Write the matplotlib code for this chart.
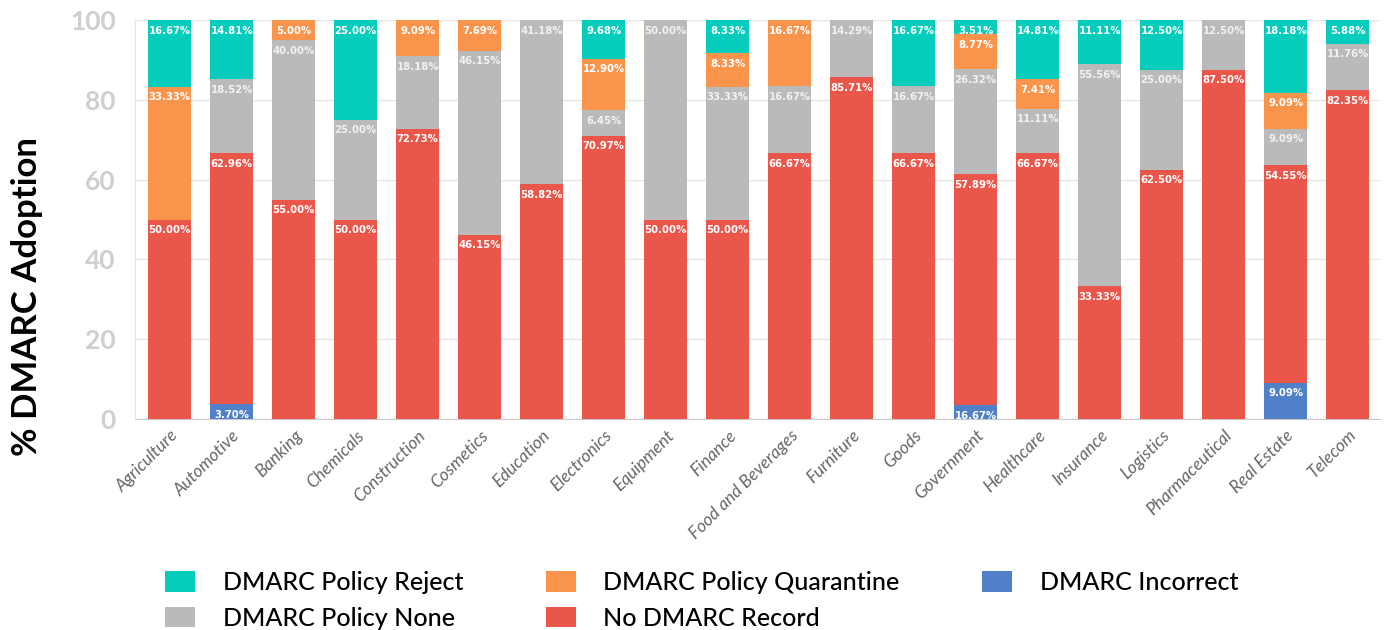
import numpy as np
from matplotlib import pyplot as plt

plt.rcParams['font.family'] = ['Lato', 'DejaVu Sans']

sectors = ['Agriculture', 'Automotive', 'Banking', 'Chemicals', 'Construction',
           'Cosmetics', 'Education', 'Electronics', 'Equipment', 'Finance',
           'Food and Beverages', 'Furniture', 'Goods', 'Government', 'Healthcare',
           'Insurance', 'Logistics', 'Pharmaceutical', 'Real Estate', 'Telecom']

incorrect = [0, 3.70, 0, 0, 0, 0, 0, 0, 0, 0, 0, 0, 0, 3.51, 0, 0, 0, 0, 9.09, 0]
no_record = [50.00, 62.96, 55.00, 50.00, 72.73, 46.15, 58.82, 70.97, 50.00, 50.00,
             66.67, 85.71, 66.67, 57.89, 66.67, 33.33, 62.50, 87.50, 54.55, 82.35]
pol_none = [0, 18.52, 40.00, 25.00, 18.18, 46.15, 41.18, 6.45, 50.00, 33.33,
            16.67, 14.29, 16.67, 26.32, 11.11, 55.56, 25.00, 12.50, 9.09, 11.76]
quarantine = [33.33, 0, 5.00, 0, 9.09, 7.69, 0, 12.90, 0, 8.33,
              16.67, 0, 0, 8.77, 7.41, 0, 0, 0, 9.09, 0]
reject = [16.67, 14.81, 0, 25.00, 0, 0, 0, 9.68, 0, 8.33,
          0, 0, 16.67, 3.51, 14.81, 11.11, 12.50, 0, 18.18, 5.88]

# label shown on the chart for Government's incorrect segment
label_override = {('DMARC Incorrect', 'Government'): '16.67%'}

series = [
    ('DMARC Incorrect', incorrect, '#5080C8', 'white'),
    ('No DMARC Record', no_record, '#EB564A', 'white'),
    ('DMARC Policy None', pol_none, '#BABABA', '#F2F2F2'),
    ('DMARC Policy Quarantine', quarantine, '#F9944C', 'white'),
    ('DMARC Policy Reject', reject, '#05CCBB', 'white'),
]

fig = plt.figure(figsize=(13.84, 6.3), dpi=100)
ax = fig.add_axes([135 / 1384, 211 / 630, 1245 / 1384, 399 / 630])

x = np.arange(len(sectors))
bottom = np.zeros(len(sectors))
handles = {}
for name, vals, col, tcol in series:
    vals = np.array(vals)
    b = ax.bar(x, vals, 0.69, bottom=bottom, color=col, zorder=3, label=name)
    handles[name] = b
    for i, v in enumerate(vals):
        if v > 0:
            txt = label_override.get((name, sectors[i]), '%.2f%%' % v)
            ax.annotate(txt, (x[i], bottom[i] + v), xytext=(0, -4),
                        textcoords='offset points', ha='center', va='top',
                        fontsize=7.3, fontweight='bold', color=tcol,
                        family='DejaVu Sans', zorder=4)
    bottom += vals

ax.set_xlim(-0.56, 19.52)
ax.set_ylim(0, 100)
ax.set_yticks([0, 20, 40, 60, 80, 100])
ax.grid(axis='y', color='#E6E6E6', lw=1, zorder=0)
ax.tick_params(axis='y', length=0, labelsize=19, labelcolor='#CFCFCF', pad=14)
for t in ax.get_yticklabels():
    t.set_fontweight('bold')
ax.set_xticks(x)
ax.set_xticklabels(sectors, rotation=45, ha='right', rotation_mode='anchor',
                   fontsize=12.5, color='#666666', style='italic')
ax.tick_params(axis='x', length=0, pad=6)
for s in ['top', 'right']:
    ax.spines[s].set_visible(False)
ax.spines['left'].set_color('#E6E6E6')
ax.spines['bottom'].set_color('#C8C8C8')

ax.set_ylabel('% DMARC Adoption', fontsize=25, fontweight='bold')
ax.yaxis.set_label_coords(-0.0735, 0.306)

order = ['DMARC Policy Reject', 'DMARC Policy None', 'DMARC Policy Quarantine',
         'No DMARC Record', 'DMARC Incorrect']
fig.legend([handles[n] for n in order], order, loc='lower center',
           bbox_to_anchor=(0.507, -0.035), ncol=3, frameon=False,
           prop={'size': 18, 'weight': 'medium'},
           handlelength=1.2, handleheight=0.9, handletextpad=1.1,
           columnspacing=3.3, labelspacing=0.5)

plt.savefig('out.png', dpi=100)
